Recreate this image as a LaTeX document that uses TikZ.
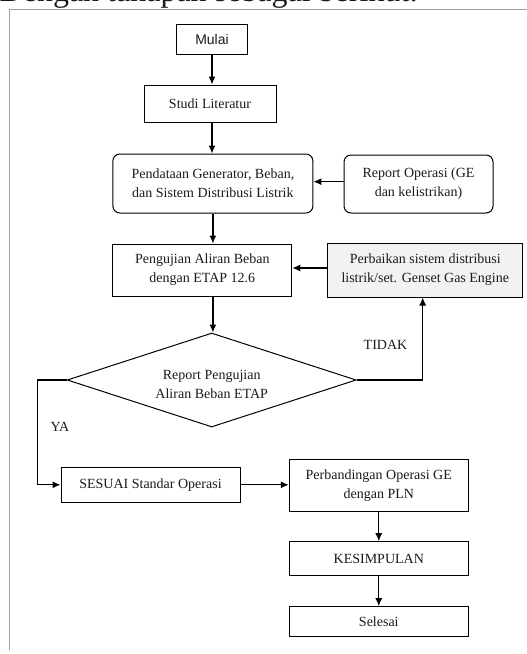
\documentclass[tikz,border=0pt]{standalone}
\usepackage{fontspec}
\setmainfont{Liberation Serif}
\newfontfamily\sansf{Liberation Sans}
\usetikzlibrary{arrows.meta,shapes.geometric}
\definecolor{framegray}{HTML}{A0A0A0}
\definecolor{boxgray}{HTML}{F2F2F2}
\definecolor{txt}{HTML}{1A1A1A}
\tikzset{
  stepbox/.style={draw=black, line width=1pt, align=center, inner sep=0pt,
    text=txt, font=\fontsize{14}{19}\selectfont},
  roundbox/.style={stepbox, rounded corners=7pt},
  conn/.style={line width=1.2pt, -{Latex[length=8pt,width=7pt]}},
  plainline/.style={line width=1.2pt},
  lbl/.style={text=txt, font=\fontsize{14}{19}\selectfont, inner sep=0pt},
}
\begin{document}
\begin{tikzpicture}[x=1pt,y=-1pt]
\path[use as bounding box, clip] (0,0) rectangle (527,654);
% title (cut off at the top)
\node[anchor=base west, inner sep=0pt, font=\fontsize{32}{38}\selectfont, text=txt] (title) at (-0.5,1.2) {Dengan tahapan sebagai berikut:};
% frame
\draw[framegray, line width=1pt] (9.5,650) -- (9.5,9.5) -- (540,9.5);
% nodes
\node[stepbox, minimum width=71pt, minimum height=30pt, font=\sansf\fontsize{14}{17}\selectfont] (mulai) at (212,39) {Mulai};
\node[stepbox, minimum width=132pt, minimum height=37pt] (studi) at (210,103.5) {Studi Literatur};
\node[roundbox, minimum width=200pt, minimum height=59pt] (data) at (212.9,183.5) {Pendataan Generator, Beban,\\dan Sistem Distribusi Listrik};
\node[roundbox, minimum width=149pt, minimum height=58pt] (report) at (418.5,184) {Report Operasi (GE\\dan kelistrikan)};
\node[stepbox, minimum width=179pt, minimum height=52pt] (uji) at (202.3,270) {Pengujian Aliran Beban\\dengan ETAP 12.6};
\node[stepbox, fill=boxgray, minimum width=195pt, minimum height=54pt] (perbaikan) at (425.3,270) {Perbaikan sistem distribusi\\listrik/set. Genset Gas Engine};
\node[diamond, draw=black, line width=1pt, minimum width=289pt, minimum height=94pt, inner sep=0pt] (dec) at (211.7,380) {};
\node[lbl, align=center] (dectext) at (211.7,384) {Report Pengujian\\Aliran Beban ETAP};
\node[stepbox, minimum width=179pt, minimum height=35pt] (sesuai) at (150.5,484.8) {SESUAI Standar Operasi};
\node[stepbox, minimum width=179pt, minimum height=52pt] (banding) at (378.8,485.2) {Perbandingan Operasi GE\\dengan PLN};
\node[stepbox, minimum width=179pt, minimum height=34pt] (simpul) at (378.8,558.7) {KESIMPULAN};
\node[stepbox, minimum width=179pt, minimum height=30pt] (selesai) at (378.8,621.7) {Selesai};
% labels
\node[lbl] (tidak) at (385.5,345) {TIDAK};
\node[lbl] (ya) at (60,427) {YA};
% connectors
\draw[conn] (mulai.south) -- (mulai.south |- studi.north);
\draw[conn] (studi.south -| mulai.south) -- (mulai.south |- data.north);
\draw[conn] (report.west |- 0,181.7) -- (data.east |- 0,181.7);
\draw[conn] (data.south) -- (data.south |- uji.north);
\draw[conn] (perbaikan.west |- 0,268) -- (uji.east |- 0,268);
\draw[conn] (data.south |- uji.south) -- (data.south |- dec.north);
\coordinate (tidakcorner) at (422.7,380);
\draw[conn] (dec.east) -- (tidakcorner) -- (tidakcorner |- perbaikan.south);
\coordinate (yacorner) at (37.3,380);
\draw[conn] (dec.west) -- (yacorner) |- (sesuai.west);
\draw[conn] (sesuai.east) -- (banding.west |- sesuai.east);
\draw[conn] (banding.south) -- (simpul.north);
\draw[conn] (simpul.south) -- (selesai.north);
\end{tikzpicture}
\end{document}
